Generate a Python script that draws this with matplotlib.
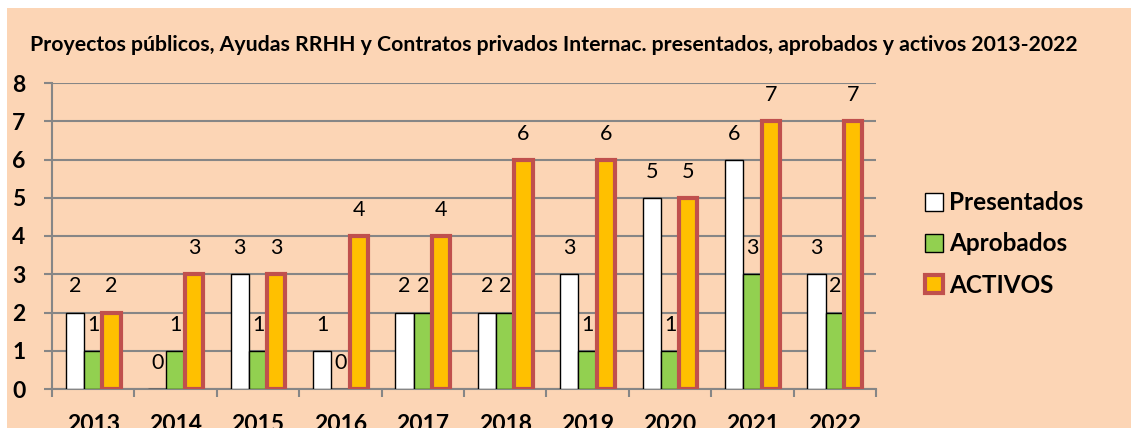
import matplotlib
matplotlib.use("Agg")
import matplotlib.pyplot as plt
from matplotlib.patches import Rectangle
import numpy as np

years = ["2013", "2014", "2015", "2016", "2017", "2018", "2019", "2020", "2021", "2022"]
presentados = [2, 0, 3, 1, 2, 2, 3, 5, 6, 3]
aprobados = [1, 1, 1, 0, 2, 2, 1, 1, 3, 2]
activos = [2, 3, 3, 4, 4, 6, 6, 5, 7, 7]
series_names = ["Presentados", "Aprobados", "ACTIVOS"]
title = "Proyectos públicos, Ayudas RRHH y Contratos privados Internac. presentados, aprobados y activos 2013-2022"

FONT = ["Lato", "DejaVu Sans"]
PEACH = "#FCD5B5"
GREEN = "#92D050"
ORANGE = "#FFC000"
RED = "#C0504D"
GRID = "#868686"

W, H = 1131, 428
fig = plt.figure(figsize=(W / 100, H / 100), dpi=100)
fig.patch.set_facecolor(PEACH)
# white strips at top and left of the picture
fig.patches.append(Rectangle((0, 0), 7 / W, 1, transform=fig.transFigure,
                             facecolor="white", edgecolor="none", zorder=-5))
fig.patches.append(Rectangle((0, (H - 8) / H), 1, 8 / H, transform=fig.transFigure,
                             facecolor="white", edgecolor="none", zorder=-5))

ax = fig.add_axes([52 / W, (H - 389) / H, (876 - 52) / W, (389 - 83) / H])
ax.set_facecolor(PEACH)

n = len(years)
x = np.arange(n) + 0.5
bw = 0.222
b1 = ax.bar(x - bw, presentados, bw, color="white", edgecolor="black", linewidth=1.0, zorder=3)
b2 = ax.bar(x, aprobados, bw, color=GREEN, edgecolor="black", linewidth=1.0, zorder=3)
b3 = ax.bar(x + bw, activos, bw, color=ORANGE, edgecolor=RED, linewidth=3.0, zorder=3)

for bars, vals, dx in ((b1, presentados, -bw), (b2, aprobados, 0), (b3, activos, bw)):
    for xi, v in zip(x, vals):
        ax.annotate(str(v), (xi + dx, v), xytext=(0, 26), textcoords="offset pixels",
                    ha="center", va="center", fontsize=15.5, family=FONT, color="black", zorder=5)

ax.set_xlim(0, n)
ax.set_ylim(0, 8)
ax.set_yticks(range(0, 9))
ax.set_yticklabels([str(i) for i in range(0, 9)], fontsize=16.5, fontweight="bold", family=FONT)
ax.yaxis.grid(True, color=GRID, linewidth=1.5, zorder=1)
ax.set_axisbelow(True)
ax.tick_params(axis="y", length=6, width=1.5, color=GRID, pad=13)

ax.set_xticks(np.arange(0, n + 1))
ax.set_xticklabels([])
ax.set_xticks(x, minor=True)
ax.set_xticklabels(years, minor=True, fontsize=16.5, fontweight="bold", family=FONT)
ax.tick_params(axis="x", which="major", length=6, width=1.5, color=GRID)
ax.tick_params(axis="x", which="minor", length=0, pad=18)

for s in ("top", "right"):
    ax.spines[s].set_visible(False)
for s in ("left", "bottom"):
    ax.spines[s].set_color(GRID)
    ax.spines[s].set_linewidth(1.5)

fig.text(30 / W, 1 - 45 / H, title, fontsize=15.3, fontweight="bold", family=FONT,
         ha="left", va="center")

leg = fig.legend([b1, b2, b3], series_names, loc="center left",
                 bbox_to_anchor=(903 / W, 1 - 244 / H), frameon=False,
                 prop={"family": FONT, "weight": "bold", "size": 17.5},
                 handlelength=0.75, handleheight=0.75, handletextpad=0.25, labelspacing=0.75)

fig.savefig("out.png", dpi=100, facecolor=fig.get_facecolor())
